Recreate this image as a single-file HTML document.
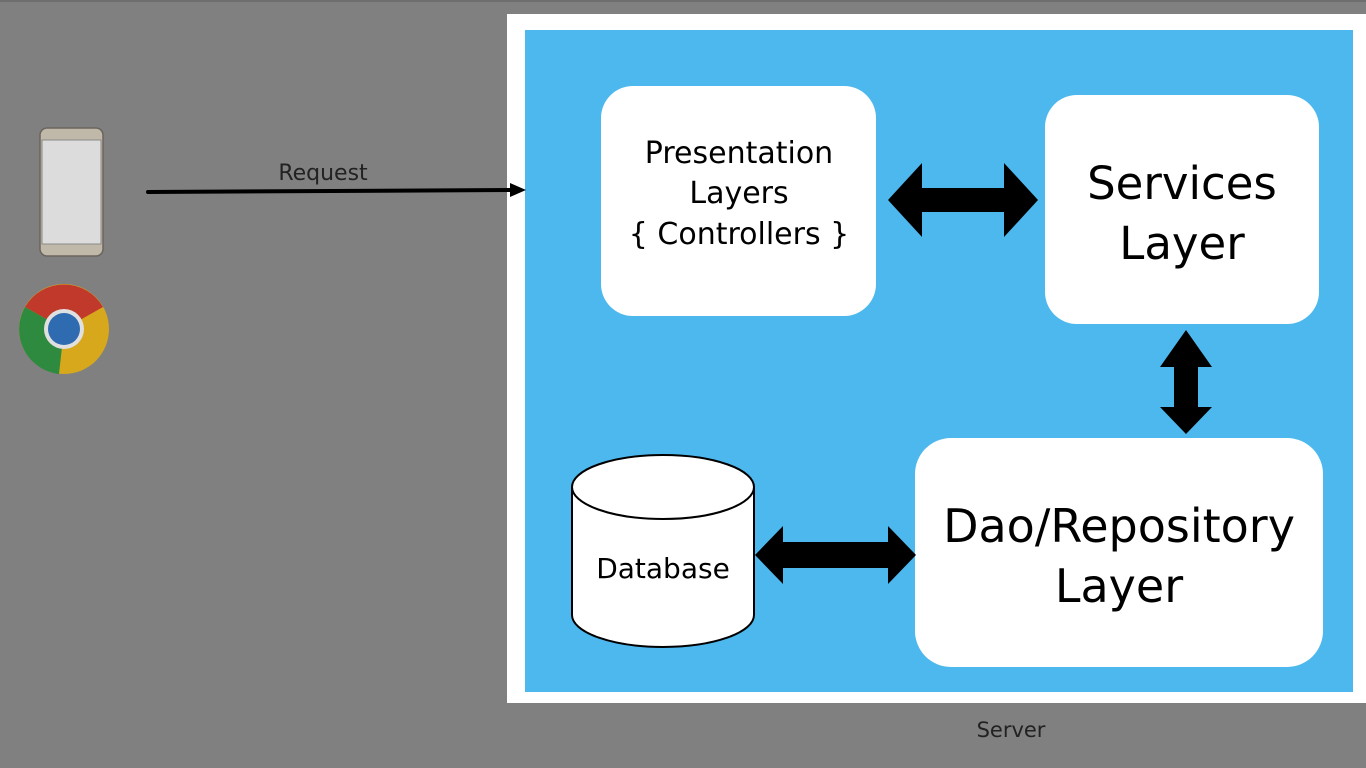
<!DOCTYPE html>
<html><head><meta charset="utf-8"><style>
html,body{margin:0;padding:0;width:1366px;height:768px;overflow:hidden;background:#808080}
svg{display:block}
text{font-family:"DejaVu Sans","Liberation Sans",sans-serif}
</style></head><body>
<svg width="1366" height="768" viewBox="0 0 1366 768">
<rect x="0" y="0" width="1366" height="768" fill="#808080"/>
<rect x="0" y="0" width="1366" height="2" fill="#6e6e6e"/>
<rect x="507" y="14" width="859" height="689" fill="#fff"/>
<rect x="525" y="30" width="828" height="662" fill="#4db8ee"/>
<!-- phone -->
<rect x="40" y="128" width="63" height="128" rx="7" fill="#c0b8a8" stroke="#6a655c" stroke-width="1.5"/>
<rect x="42" y="140" width="59" height="104" fill="#dcdcdc" stroke="#8a8a8a" stroke-width="1"/>
<!-- chrome -->
<g transform="translate(64,329)">
<circle r="45" fill="#d8a81c"/>
<path d="M0,0 L-39,-22 A45,45 0 0,1 39,-22 Z" fill="#c0392b"/>
<path d="M0,0 L-39,-22 A45,45 0 0,0 -5,45 Z" fill="#2e8a3e"/>
<circle r="20" fill="#e0e0e0"/>
<circle r="16" fill="#2f6bb0"/>
</g>
<!-- request arrow -->
<line x1="148" y1="192" x2="512" y2="190" stroke="#000" stroke-width="4" stroke-linecap="round"/>
<polygon points="510,183 526,190 510,197" fill="#000"/>
<text x="323" y="180" font-size="22" text-anchor="middle" fill="#222">Request</text>
<!-- boxes -->
<rect x="601" y="86" width="275" height="230" rx="32" fill="#fff"/>
<text x="739" y="163" font-size="30" text-anchor="middle">Presentation</text>
<text x="739" y="203" font-size="30" text-anchor="middle">Layers</text>
<text x="739" y="244" font-size="30" text-anchor="middle">{ Controllers }</text>
<rect x="1045" y="95" width="274" height="229" rx="32" fill="#fff"/>
<text x="1182" y="199" font-size="45" text-anchor="middle">Services</text>
<text x="1182" y="259" font-size="45" text-anchor="middle">Layer</text>
<rect x="915" y="438" width="408" height="229" rx="36" fill="#fff"/>
<text x="1119" y="542" font-size="46" text-anchor="middle">Dao/Repository</text>
<text x="1119" y="602" font-size="46" text-anchor="middle">Layer</text>
<!-- database -->
<path d="M572,487 L572,615 A91,32 0 0,0 754,615 L754,487" fill="#fff" stroke="#000" stroke-width="2"/>
<ellipse cx="663" cy="487" rx="91" ry="32" fill="#fff" stroke="#000" stroke-width="2"/>
<text x="663" y="578" font-size="28" text-anchor="middle">Database</text>
<!-- arrows -->
<polygon points="888,200 922,163 922,188 1004,188 1004,163 1038,200 1004,237 1004,212 922,212 922,237" fill="#000"/>
<polygon points="1186,330 1212,367 1198,367 1198,407 1212,407 1186,434 1160,407 1174,407 1174,367 1160,367" fill="#000"/>
<polygon points="755,555 783,526 783,542 888,542 888,526 916,555 888,584 888,568 783,568 783,584" fill="#000"/>
<text x="1011" y="737" font-size="21" text-anchor="middle" fill="#222">Server</text>
</svg>
</body></html>
